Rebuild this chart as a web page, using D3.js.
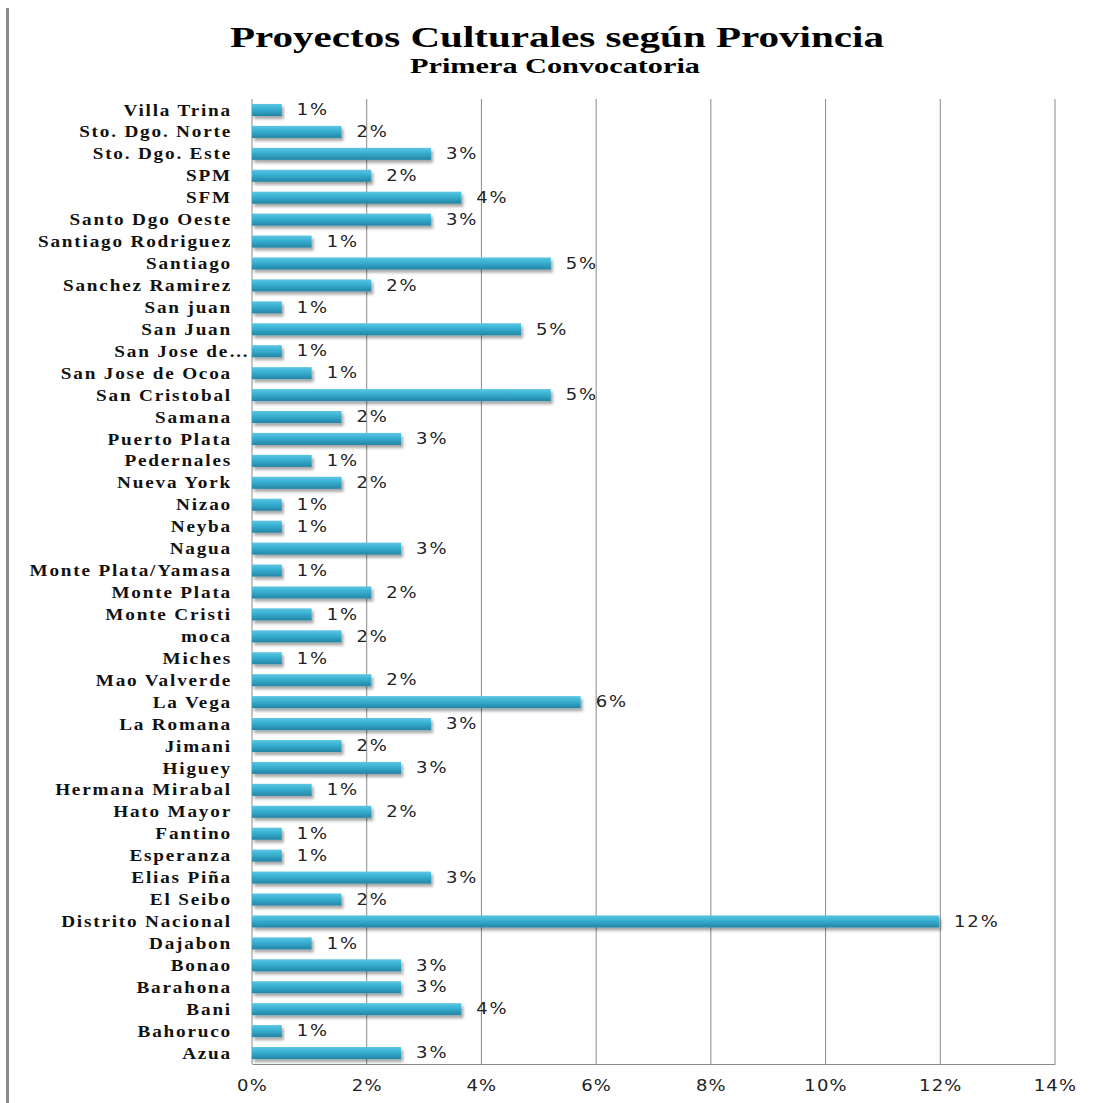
<!DOCTYPE html>
<html><head><meta charset="utf-8">
<script src="https://cdn.jsdelivr.net/npm/d3@7"></script>
<style>body{margin:0;background:#fff}svg{display:block}</style>
</head><body>
<svg id="c" width="1094" height="1103"></svg>
<script>
const categories = ["Villa Trina","Sto. Dgo. Norte","Sto. Dgo. Este","SPM","SFM","Santo Dgo Oeste","Santiago Rodriguez","Santiago","Sanchez Ramirez","San juan","San Juan","San Jose de…","San Jose de Ocoa","San Cristobal","Samana","Puerto Plata","Pedernales","Nueva York","Nizao","Neyba","Nagua","Monte Plata/Yamasa","Monte Plata","Monte Cristi","moca","Miches","Mao Valverde","La Vega","La Romana","Jimani","Higuey","Hermana Mirabal","Hato Mayor","Fantino","Esperanza","Elias Piña","El Seibo","Distrito Nacional","Dajabon","Bonao","Barahona","Bani","Bahoruco","Azua"];
const values = [0.52,1.56,3.12,2.08,3.65,3.12,1.04,5.21,2.08,0.52,4.69,0.52,1.04,5.21,1.56,2.60,1.04,1.56,0.52,0.52,2.60,0.52,2.08,1.04,1.56,0.52,2.08,5.73,3.12,1.56,2.60,1.04,2.08,0.52,0.52,3.12,1.56,11.98,1.04,2.60,2.60,3.65,0.52,2.60];
const valueLabels = ["1%","2%","3%","2%","4%","3%","1%","5%","2%","1%","5%","1%","1%","5%","2%","3%","1%","2%","1%","1%","3%","1%","2%","1%","2%","1%","2%","6%","3%","2%","3%","1%","2%","1%","1%","3%","2%","12%","1%","3%","3%","4%","1%","3%"];
const xTicks = [0,2,4,6,8,10,12,14];
const title = "Proyectos Culturales según Provincia";
const subtitle = "Primera Convocatoria";

const svg = d3.select("#c");
const L = 252, R = 1055, T = 99, B = 1064;
const x = d3.scaleLinear().domain([0,14]).range([L,R]);
const y = d3.scaleBand().domain(categories).range([T,B]).paddingInner(0.45).paddingOuter(0.225);

function stretch(sel, k){
  sel.each(function(){
    const w = this.getComputedTextLength();
    d3.select(this).attr("textLength", w*k).attr("lengthAdjust","spacingAndGlyphs");
  });
}

const defs = svg.append("defs");
const g = defs.append("linearGradient").attr("id","bg").attr("x1",0).attr("y1",0).attr("x2",0).attr("y2",1);
g.append("stop").attr("offset","0%").attr("stop-color","#5cc6e2");
g.append("stop").attr("offset","45%").attr("stop-color","#36aed0");
g.append("stop").attr("offset","100%").attr("stop-color","#2485a4");
const f = defs.append("filter").attr("id","sh").attr("x","-5%").attr("y","-50%").attr("width","115%").attr("height","250%");
f.append("feDropShadow").attr("dx",2).attr("dy",3).attr("stdDeviation",1.6).attr("flood-color","#000").attr("flood-opacity",0.35);

// left page border
svg.append("rect").attr("x",6).attr("y",8).attr("width",3).attr("height",1095).attr("fill","#8c8c8c");

// title
svg.append("text").attr("x",557).attr("y",47).attr("text-anchor","middle")
  .attr("font-family","Liberation Serif, serif").attr("font-weight","bold").attr("font-size",30)
  .attr("textLength",654).attr("lengthAdjust","spacingAndGlyphs").text(title);
svg.append("text").attr("x",555).attr("y",73).attr("text-anchor","middle")
  .attr("font-family","Liberation Serif, serif").attr("font-weight","bold").attr("font-size",20)
  .attr("textLength",290).attr("lengthAdjust","spacingAndGlyphs").text(subtitle);

// gridlines
svg.append("g").selectAll("line").data(xTicks.slice(1)).join("line")
  .attr("x1",d=>x(d)).attr("x2",d=>x(d)).attr("y1",T).attr("y2",B)
  .attr("stroke","#8a8a8a").attr("stroke-width",1);
// axis
const ax = svg.append("g").attr("transform",`translate(0,${B})`)
  .call(d3.axisBottom(x).tickValues(xTicks).tickFormat(d=>d+"%").tickSize(0).tickPadding(16));
ax.select(".domain").attr("stroke","#8a8a8a");
ax.selectAll("text").attr("font-family","DejaVu Sans, Verdana, sans-serif").attr("font-size",15)
  .attr("letter-spacing",1).attr("fill","#222").call(stretch,1.2);
svg.append("line").attr("x1",L).attr("x2",L).attr("y1",T).attr("y2",B).attr("stroke","#8a8a8a");

// bars
svg.append("g").selectAll("rect").data(values).join("rect")
  .attr("x",L).attr("y",(d,i)=>y(categories[i]))
  .attr("width",d=>x(d)-L).attr("height",y.bandwidth())
  .attr("fill","url(#bg)").attr("filter","url(#sh)");

// value labels
svg.append("g").selectAll("text").data(values).join("text")
  .attr("x",d=>x(d)+15).attr("y",(d,i)=>y(categories[i])+y.bandwidth()/2).attr("dy","0.35em")
  .attr("font-family","DejaVu Sans, Verdana, sans-serif").attr("font-size",15).attr("letter-spacing",1.5)
  .attr("fill","#222").text((d,i)=>valueLabels[i]).call(stretch,1.2);

// category labels
svg.append("g").selectAll("text").data(categories).join("text")
  .attr("x",d=>d.endsWith("…")?250:232).attr("y",d=>y(d)+y.bandwidth()/2).attr("dy","0.35em")
  .attr("text-anchor","end")
  .attr("font-family","Liberation Serif, serif").attr("font-weight","bold").attr("font-size",16)
  .attr("letter-spacing",1.5).attr("fill","#111").text(d=>d).call(stretch,1.2);
</script>
</body></html>
